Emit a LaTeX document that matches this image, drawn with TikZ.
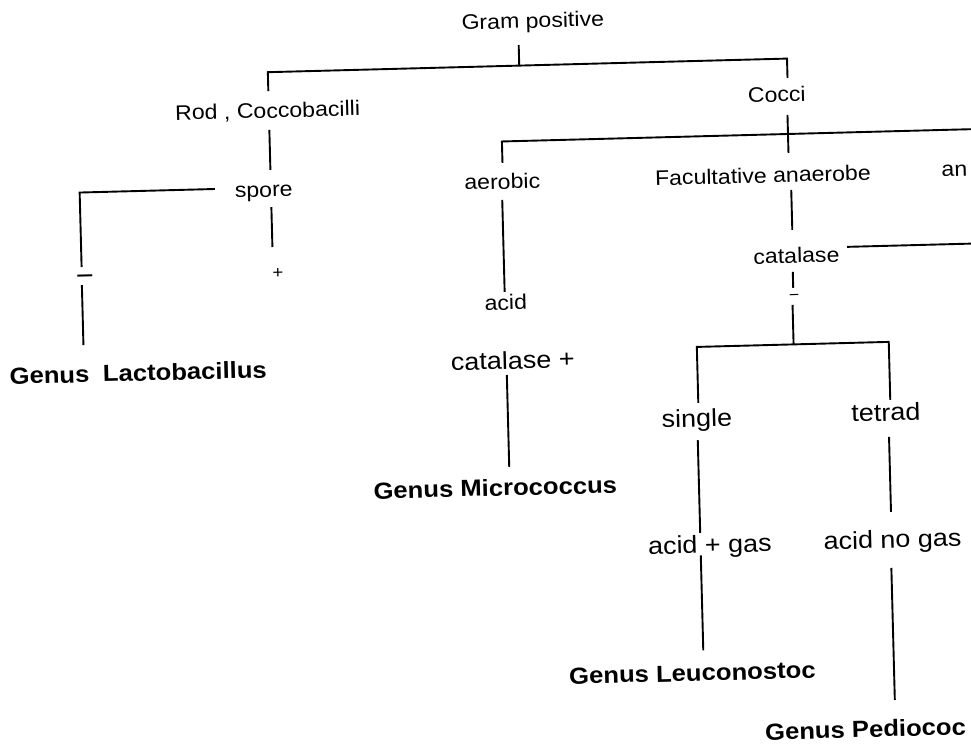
\documentclass[tikz,border=0pt]{standalone}
\usepackage{fontspec}
\newfontfamily\fr{Liberation Sans}[FakeStretch=1.1]
\begin{document}
\begin{tikzpicture}[x=1pt,y=1pt,
  sm/.style={font=\fr\fontsize{21}{25}\selectfont, inner sep=0pt, anchor=base},
  lg/.style={font=\fr\fontsize{24.5}{29}\selectfont, inner sep=0pt, anchor=base},
  gen/.style={font=\fr\bfseries\fontsize{23.3}{28}\selectfont, inner sep=0pt, anchor=base},
  sgn/.style={inner sep=0pt, anchor=base},
  ln/.style={line width=1.9pt}]
\fill[white] (0,0) rectangle (971,-746);
\useasboundingbox (0,0) rectangle (971,-746);
\clip (0,0) rectangle (971,-746);
\begin{scope}[rotate around={1.5:(485,-373)}, transform shape]
% texts
\node[sm] (gram) at (542,-29.2) {Gram positive};
\node[sm] (rod) at (274.6,-112.4) {Rod , Coccobacilli};
\node[sm] (cocci) at (784,-109.6) {Cocci};
\node[sm] (spore) at (268.6,-191.3) {spore};
\node[sm] (aer) at (507.3,-189.5) {aerobic};
\node[sm] (fac) at (768,-190.2) {Facultative anaerobe};
\node[sm, anchor=base west] (ana) at (946.5,-188.9) {an};
\node[sm] (cat) at (799.4,-271.1) {catalase};
\node[sm] (acid) at (507.6,-310.5) {acid};
\node[lg] (catp) at (513.1,-369.7) {catalase +};
\node[gen] (gmic) at (492.3,-496.3) {Genus Micrococcus};
\node[lg] (single) at (695.6,-432.5) {single};
\node[lg] (tetrad) at (884.8,-431.4) {tetrad};
\node[lg] (ag) at (705.3,-558.9) {acid + gas};
\node[lg] (ang) at (888,-558.6) {acid no gas};
\node[gen] (gleu) at (684.5,-686.4) {Genus Leuconostoc};
\node[gen, anchor=base west] (gped) at (755.5,-747.3) {Genus Pediococ};
\node[gen] (glac) at (138.3,-372) {Genus\hspace{13.7pt}Lactobacillus};
\node[sgn, font=\fr\fontsize{28}{30}\selectfont] (neg1) at (87.5,-274.5) {−};
\node[sgn, font=\fr\fontsize{16}{18}\selectfont] (neg2) at (796,-308.7) {−};
\node[sgn, font=\fr\fontsize{17}{19}\selectfont] (pos1) at (280.6,-272.6) {+};
% junction coordinates
\coordinate (t0) at (527.3,-46);
\coordinate (t1) at (527.3,-66.6);
\coordinate (bL) at (275.8,-85.5);
\coordinate (bR) at (795.2,-86);
\coordinate (r0) at (275.8,-124.4);
\coordinate (r1) at (275.8,-164.4);
\coordinate (s0) at (219.8,-182);
\coordinate (s1) at (84.5,-256.5);
\coordinate (n0) at (84.3,-274.6);
\coordinate (n1) at (84.3,-334.6);
\coordinate (p0) at (275.8,-201.5);
\coordinate (p1) at (275.8,-241.5);
\coordinate (c0) at (794.2,-122.9);
\coordinate (c1) at (794.2,-160.9);
\coordinate (ae0) at (508,-163.5);
\coordinate (ce) at (1010,-142);
\coordinate (a0) at (506.8,-200.5);
\coordinate (a1) at (506.8,-292.5);
\coordinate (m0) at (506.8,-375.6);
\coordinate (m1) at (506.8,-467.6);
\coordinate (f0) at (796,-198);
\coordinate (f1) at (796,-238);
\coordinate (k0) at (850.3,-256.4);
\coordinate (k1) at (1010,-256.4);
\coordinate (q0) at (795.4,-280);
\coordinate (q1) at (795.4,-296);
\coordinate (q2) at (794.3,-313);
\coordinate (q3) at (794.3,-352.5);
\coordinate (bl2) at (697.5,-408.5);
\coordinate (br2) at (889.5,-410.5);
\coordinate (g0) at (696,-445.6);
\coordinate (g1) at (696,-538.6);
\coordinate (g2) at (696,-561);
\coordinate (g3) at (696,-656);
\coordinate (h0) at (887.3,-447.5);
\coordinate (h1) at (887.3,-522.5);
\coordinate (h2) at (886.2,-578.6);
\coordinate (h3) at (886.2,-710.6);
% connectors
\draw[ln] (t0) -- (t1);
\draw[ln] (bL) |- (t1) -| (bR);
\draw[ln] (r0) -- (r1);
\draw[ln] (s0) -| (s1);
\draw[ln] (n0) -- (n1);
\draw[ln] (p0) -- (p1);
\draw[ln] (c0) -- (c1);
\draw[ln] (ae0) |- (ce);
\draw[ln] (a0) -- (a1);
\draw[ln] (m0) -- (m1);
\draw[ln] (f0) -- (f1);
\draw[ln] (k0) -- (k1);
\draw[ln] (q0) -- (q1);
\draw[ln] (q2) -- (q3);
\draw[ln] (bl2) |- (q3) -| (br2);
\draw[ln] (g0) -- (g1);
\draw[ln] (g2) -- (g3);
\draw[ln] (h0) -- (h1);
\draw[ln] (h2) -- (h3);
\end{scope}
\end{tikzpicture}
\end{document}
